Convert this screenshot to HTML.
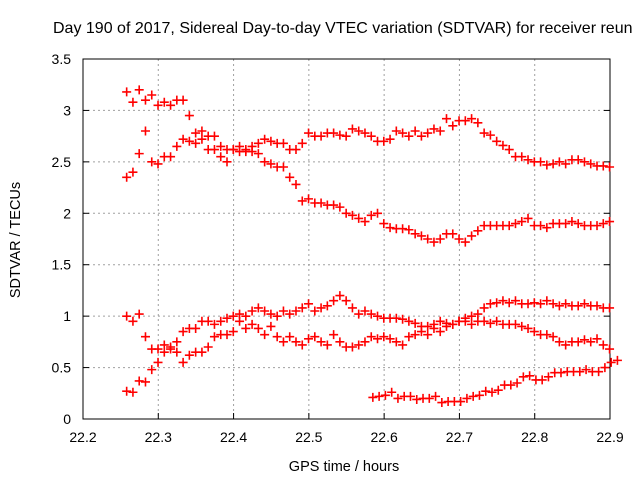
<!DOCTYPE html>
<html><head><meta charset="utf-8"><style>
body{margin:0;background:#fff;width:640px;height:480px;overflow:hidden}
svg{display:block;font-family:"Liberation Sans",sans-serif}
</style></head><body>
<svg id="chart" width="640" height="480" viewBox="0 0 640 480">
<text x="53" y="33" font-size="16" fill="#000">Day 190 of 2017, Sidereal Day-to-day VTEC variation (SDTVAR) for receiver reun</text>
<text x="344" y="471" font-size="14.5" text-anchor="middle">GPS time / hours</text>
<text transform="translate(20,240) rotate(-90)" font-size="14.5" text-anchor="middle">SDTVAR / TECUs</text>
<g id="grid"></g><g id="axes"></g><g id="marks"></g>
</svg>
<script>
const xTicks=[22.2,22.3,22.4,22.5,22.6,22.7,22.8,22.9];
const yTicks=[0,0.5,1,1.5,2,2.5,3,3.5];
const xTickLabels=["22.2","22.3","22.4","22.5","22.6","22.7","22.8","22.9"];
const yTickLabels=["0","0.5","1","1.5","2","2.5","3","3.5"];
const tStart=22.258, tStep=0.00833, tStartE=22.585;
const seriesA=[3.18,3.08,3.2,3.1,3.15,3.05,3.08,3.05,3.1,3.1,2.95,2.78,2.8,2.62,2.62,2.65,2.62,2.62,2.6,2.6,2.65,2.68,2.72,2.7,2.68,2.68,2.62,2.62,2.68,2.78,2.75,2.75,2.78,2.78,2.76,2.75,2.82,2.8,2.78,2.75,2.7,2.7,2.72,2.8,2.78,2.75,2.8,2.75,2.78,2.82,2.8,2.92,2.85,2.9,2.9,2.92,2.88,2.78,2.76,2.7,2.66,2.62,2.55,2.55,2.52,2.5,2.5,2.47,2.48,2.5,2.48,2.52,2.52,2.5,2.48,2.46,2.46,2.45];
const seriesB=[2.35,2.4,2.58,2.8,2.5,2.48,2.55,2.55,2.65,2.72,2.7,2.68,2.72,2.75,2.75,2.55,2.5,2.62,2.65,2.62,2.6,2.58,2.5,2.48,2.45,2.45,2.35,2.28,2.12,2.14,2.1,2.1,2.08,2.08,2.06,2.0,1.98,1.95,1.92,1.98,2.0,1.9,1.86,1.85,1.85,1.84,1.8,1.78,1.75,1.72,1.75,1.8,1.8,1.75,1.72,1.78,1.83,1.88,1.88,1.88,1.88,1.88,1.9,1.92,1.95,1.88,1.88,1.86,1.9,1.9,1.9,1.92,1.9,1.88,1.88,1.88,1.9,1.92];
const seriesC=[1.0,0.95,1.02,0.8,0.68,0.68,0.72,0.68,0.75,0.85,0.88,0.88,0.95,0.95,0.92,0.95,0.98,1.0,1.02,1.0,1.05,1.08,1.05,1.02,1.0,1.05,1.02,1.05,1.08,1.12,1.05,1.08,1.1,1.15,1.2,1.15,1.08,1.02,1.05,1.02,1.0,0.98,0.98,0.98,0.97,0.95,0.93,0.9,0.9,0.92,0.95,0.93,0.92,0.95,0.98,1.0,1.02,1.08,1.12,1.13,1.15,1.13,1.15,1.12,1.12,1.13,1.12,1.15,1.12,1.1,1.12,1.1,1.1,1.12,1.1,1.1,1.08,1.08];
const seriesD=[0.27,0.26,0.37,0.36,0.48,0.55,0.65,0.7,0.65,0.55,0.62,0.65,0.65,0.7,0.8,0.82,0.82,0.85,0.95,0.88,0.92,0.88,0.82,0.9,0.8,0.75,0.8,0.75,0.72,0.78,0.8,0.75,0.72,0.82,0.75,0.7,0.7,0.72,0.75,0.8,0.78,0.8,0.78,0.75,0.72,0.8,0.82,0.85,0.82,0.88,0.85,0.9,0.92,0.95,0.95,0.92,0.95,0.95,0.93,0.95,0.92,0.92,0.92,0.9,0.88,0.85,0.82,0.82,0.8,0.75,0.72,0.75,0.75,0.77,0.75,0.78,0.72,0.68];
const seriesE=[0.21,0.22,0.23,0.26,0.2,0.22,0.22,0.19,0.2,0.2,0.22,0.16,0.17,0.17,0.17,0.2,0.22,0.23,0.27,0.26,0.28,0.33,0.33,0.35,0.41,0.42,0.38,0.38,0.41,0.45,0.45,0.46,0.46,0.46,0.48,0.46,0.46,0.5,0.55,0.57];

const L=83,R=610,T=59,B=419;
const xS=v=>L+(v-22.2)/0.7*(R-L);
const yS=v=>B-v/3.5*(B-T);
const NS="http://www.w3.org/2000/svg";
function mk(tag,attrs,parent){const e=document.createElementNS(NS,tag);for(const k in attrs)e.setAttribute(k,attrs[k]);parent.appendChild(e);return e;}
const grid=document.getElementById('grid'),axes=document.getElementById('axes'),marks=document.getElementById('marks');
xTicks.forEach((v,i)=>{const x=xS(v);
 if(i>0&&i<xTicks.length-1){const g=mk('line',{x1:x,x2:x,y1:T,y2:B,stroke:'#a0a0a0','stroke-dasharray':'2,3'},grid);
 
 }
 const t=mk('line',{x1:x,x2:x,y1:B,y2:B-6,stroke:'#000'},axes);
 
 
 const tx=mk('text',{x:x,y:442,'font-size':14,'text-anchor':'middle'},axes);tx.textContent=xTickLabels[i];
 
 
});
yTicks.forEach((v,i)=>{const y=yS(v);
 if(i>0&&i<yTicks.length-1){const g=mk('line',{x1:L,x2:R,y1:y,y2:y,stroke:'#a0a0a0','stroke-dasharray':'2,3'},grid);
 
 }
 const t=mk('line',{x1:L,x2:L+6,y1:y,y2:y,stroke:'#000'},axes);
 
 
 const t2=mk('line',{x1:R,x2:R-6,y1:y,y2:y,stroke:'#000'},axes);
 
 
 const tx=mk('text',{x:L-12,y:y+5,'font-size':14,'text-anchor':'end'},axes);tx.textContent=yTickLabels[i];
 
 
});
const fr=mk('rect',{x:L,y:T,width:R-L,height:B-T,fill:'none',stroke:'#000','stroke-width':1},axes);


function drawSeries(arr,t0,name){arr.forEach((v,i)=>{const x=xS(t0+i*tStep),y=yS(v);
 const p=mk('path',{d:`M${x-4.5},${y}H${x+4.5}M${x},${y-4.5}V${y+4.5}`,stroke:'#f00','stroke-width':1.6,fill:'none'},marks);
 
 });}
drawSeries(seriesA,tStart,'series-a');
drawSeries(seriesB,tStart,'series-b');
drawSeries(seriesC,tStart,'series-c');
drawSeries(seriesD,tStart,'series-d');
drawSeries(seriesE,tStartE,'series-e');
</script>
</body></html>
